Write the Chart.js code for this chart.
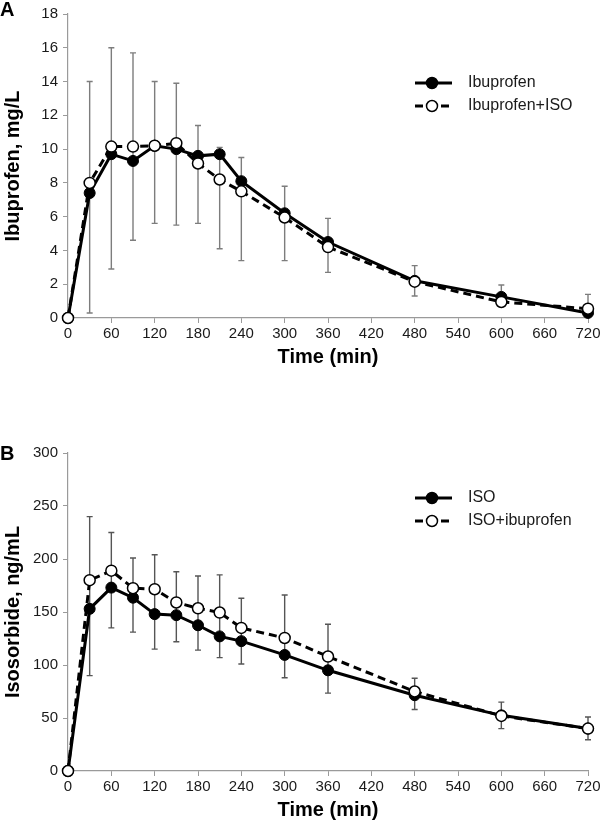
<!DOCTYPE html>
<html>
<head>
<meta charset="utf-8">
<script src="https://cdn.jsdelivr.net/npm/chart.js@4.4.1/dist/chart.umd.min.js"></script>
<style>
  html, body { margin: 0; padding: 0; background: #fff; }
  #wrap { position: relative; width: 601px; height: 822px; }
  canvas { position: absolute; left: 0; }
  #chartA { top: 0; }
  #chartB { top: 390px; }
</style>
</head>
<body>
<div id="wrap">
  <canvas id="chartA" width="601" height="390"></canvas>
  <canvas id="chartB" width="601" height="432"></canvas>
</div>
<script>
// Données (temps en min)
const times = [0, 30, 60, 90, 120, 150, 180, 210, 240, 300, 360, 480, 600, 720];

// Panneau A : ibuprofène, mg/L
const ibuprofen    = [0, 7.4, 9.7, 9.3, 10.2, 10.0, 9.6, 9.7, 8.1, 6.2, 4.5, 2.2, 1.25, 0.3];
const ibuprofenIso = [0, 8.0, 10.15, 10.15, 10.2, 10.35, 9.15, 8.2, 7.5, 5.95, 4.2, 2.15, 0.95, 0.55];
const ibuErrLow    = [null, 0.3, 2.9, 4.6, 5.6, 5.5, 5.6, 4.1, 3.4, 3.4, 2.7, 1.3, 0.7, 0.1];
const ibuErrHigh   = [null, 14.0, 16.0, 15.7, 14.0, 13.9, 11.4, 10.1, 9.5, 7.8, 5.9, 3.1, 1.95, 1.4];

// Panneau B : isosorbide, ng/mL
const iso          = [0, 153, 173, 163.5, 148, 147, 137.5, 127, 122.5, 109.5, 95, 71.5, 52.5, 40];
const isoIbuprofen = [0, 180, 189, 172.5, 171.5, 159, 153.5, 149.5, 135, 125.5, 108, 75, 52, 40];
const isoErrLow    = [null, 90, 135, 131, 115, 122, 114, 107, 101, 88, 73.5, 58, 40, 29.5];
const isoErrHigh   = [null, 240, 225, 201, 204, 188, 184, 185, 163, 166, 138.5, 87.5, 65, 51];

Chart.defaults.font.family = '"Liberation Sans", Arial, sans-serif';
Chart.defaults.font.size = 15;
Chart.defaults.color = '#1a1a1a';

const axisGray = '#9a9a9a';

// barres d'erreur sous les courbes
const errorBars = {
  id: 'errorBars',
  beforeDatasetsDraw(chart, args, opts) {
    const { ctx, scales: { x, y } } = chart;
    ctx.save();
    ctx.strokeStyle = opts.color;
    ctx.lineWidth = 1.4;
    opts.times.forEach((t, i) => {
      if (opts.low[i] == null) return;
      const px = x.getPixelForValue(t);
      const y1 = y.getPixelForValue(opts.low[i]);
      const y2 = y.getPixelForValue(opts.high[i]);
      ctx.beginPath();
      ctx.moveTo(px, y1); ctx.lineTo(px, y2);
      ctx.moveTo(px - 3, y1); ctx.lineTo(px + 3, y1);
      ctx.moveTo(px - 3, y2); ctx.lineTo(px + 3, y2);
      ctx.stroke();
    });
    ctx.restore();
  }
};

// légende dans la zone + lettre du panneau
const legendeInterne = {
  id: 'legendeInterne',
  afterDraw(chart, args, opts) {
    const ctx = chart.ctx;
    ctx.save();
    chart.data.datasets.forEach((ds, i) => {
      const yy = opts.y[i];
      ctx.beginPath();
      ctx.setLineDash(ds.borderDash || []);
      ctx.strokeStyle = '#000';
      ctx.lineWidth = 3;
      ctx.moveTo(415, yy); ctx.lineTo(452, yy);
      ctx.stroke();
      ctx.setLineDash([]);
      ctx.beginPath();
      ctx.arc(432, yy, 5.5, 0, Math.PI * 2);
      ctx.fillStyle = ds.pointBackgroundColor;
      ctx.fill();
      ctx.lineWidth = 1.5;
      ctx.stroke();
      ctx.fillStyle = '#1a1a1a';
      ctx.font = '16px "Liberation Sans", Arial, sans-serif';
      ctx.textAlign = 'left';
      ctx.textBaseline = 'middle';
      ctx.fillText(ds.label, 468, yy);
    });
    ctx.font = 'bold 20px "Liberation Sans", Arial, sans-serif';
    ctx.textAlign = 'left';
    ctx.textBaseline = 'middle';
    ctx.fillStyle = '#000';
    ctx.fillText(opts.letter, 0, opts.letterY);
    ctx.restore();
  }
};

const creerGraphique = (id, cfg) => new Chart(document.getElementById(id), {
  type: 'line',
  data: {
    datasets: [
      {
        label: cfg.labels[0],
        data: times.map((t, i) => ({ x: t, y: cfg.serie1[i] })),
        borderColor: '#000', borderWidth: 3,
        pointRadius: 5.5, pointBackgroundColor: '#000', pointBorderColor: '#000', pointBorderWidth: 1,
        clip: false, order: 2
      },
      {
        label: cfg.labels[1],
        data: times.map((t, i) => ({ x: t, y: cfg.serie2[i] })),
        borderColor: '#000', borderWidth: 3, borderDash: [8, 5],
        pointRadius: 5.5, pointBackgroundColor: '#fff', pointBorderColor: '#000', pointBorderWidth: 1.5,
        clip: false, order: 1
      }
    ]
  },
  options: {
    responsive: false,
    animation: false,
    layout: { padding: { left: 0, right: 0, top: cfg.top, bottom: cfg.bottom } },
    scales: {
      x: {
        type: 'linear', min: 0, max: 720,
        ticks: { stepSize: 60, padding: 2 },
        grid: { drawOnChartArea: false, tickLength: 5, tickColor: axisGray },
        border: { color: axisGray, width: 1.2 },
        title: { display: true, text: 'Time (min)', font: { size: 20, weight: 'bold' }, padding: 0, color: '#000' },
        afterFit: (scale) => { scale.paddingRight = 13; }
      },
      y: {
        min: 0, max: cfg.yMax,
        ticks: { stepSize: cfg.yStep, padding: 5 },
        grid: { drawOnChartArea: false, tickLength: 5, tickColor: axisGray },
        border: { color: axisGray, width: 1.2 },
        title: { display: true, text: cfg.yTitle, font: { size: 20, weight: 'bold' }, padding: { top: 1, bottom: 0 }, color: '#000' },
        afterFit: (scale) => { scale.width = 68; }
      }
    },
    plugins: {
      legend: { display: false },
      tooltip: { enabled: false },
      errorBars: { times, low: cfg.errLow, high: cfg.errHigh, color: cfg.errColor },
      legendeInterne: { y: cfg.legendY, letter: cfg.letter, letterY: cfg.letterY }
    }
  },
  plugins: [errorBars, legendeInterne]
});

creerGraphique('chartA', {
  labels: ['Ibuprofen', 'Ibuprofen+ISO'],
  serie1: ibuprofen, serie2: ibuprofenIso,
  errLow: ibuErrLow, errHigh: ibuErrHigh, errColor: '#7d7d7d',
  yMax: 18, yStep: 2, yTitle: 'Ibuprofen, mg/L',
  top: 10, bottom: 21,
  legendY: [83, 106], letter: 'A', letterY: 10
});

creerGraphique('chartB', {
  labels: ['ISO', 'ISO+ibuprofen'],
  serie1: iso, serie2: isoIbuprofen,
  errLow: isoErrLow, errHigh: isoErrHigh, errColor: '#555',
  yMax: 300, yStep: 50, yTitle: 'Isosorbide, ng/mL',
  top: 63, bottom: 0,
  legendY: [108, 131], letter: 'B', letterY: 64
});
</script>
</body>
</html>
